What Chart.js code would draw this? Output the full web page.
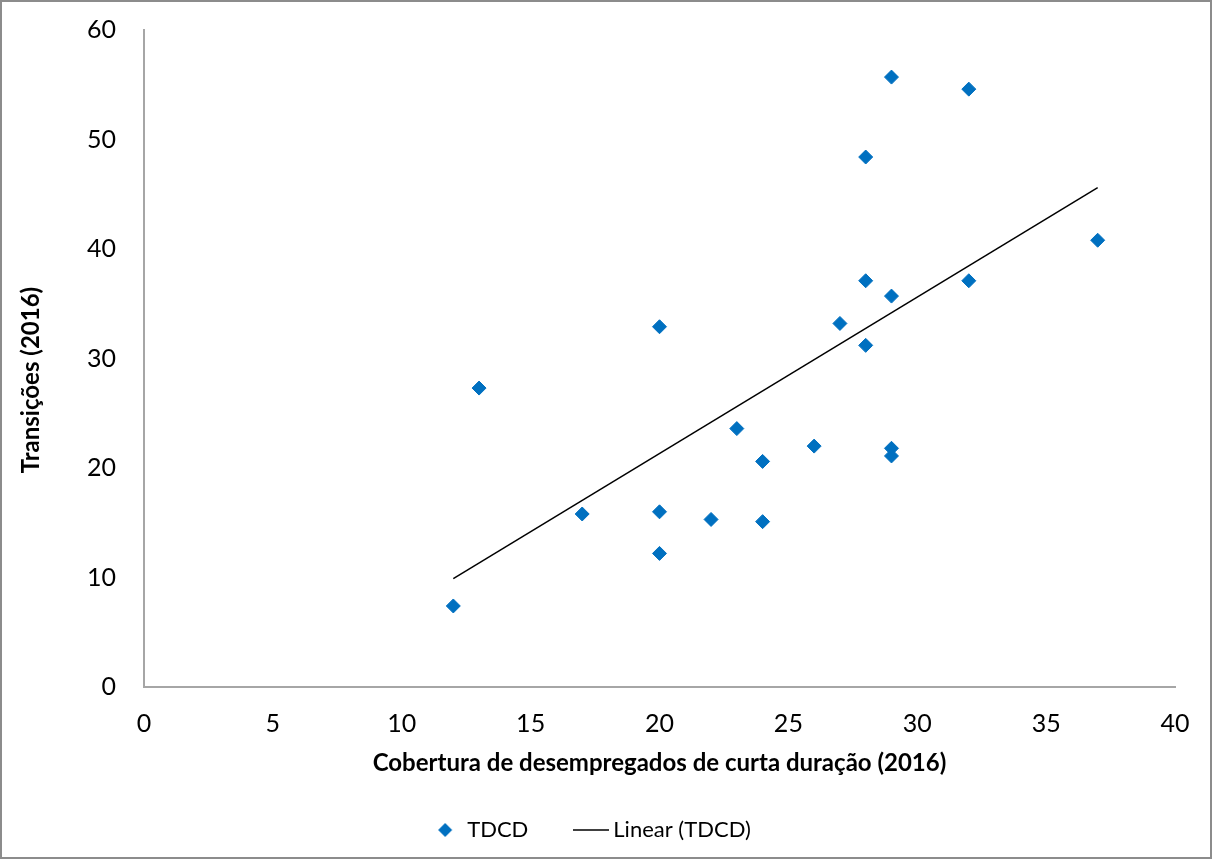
<!DOCTYPE html>
<html>
<head>
<meta charset="utf-8">
<script src="https://cdn.jsdelivr.net/npm/chart.js@4/dist/chart.umd.min.js"></script>
<style>
  html, body { margin: 0; padding: 0; background: #fff; }
  #wrap { width: 1212px; height: 859px; }
</style>
</head>
<body>
<div id="wrap"><canvas id="scatter" width="1212" height="859"></canvas></div>
<script>
const coverage = [12, 13, 17, 20, 20, 20, 22, 23, 24, 24, 26, 27, 28, 28, 28, 29, 29, 29, 29, 32, 32, 37];
const transitions = [7.4, 27.3, 15.8, 32.9, 16.0, 12.2, 15.3, 23.6, 20.6, 15.1, 22.0, 33.2, 48.4, 37.1, 31.2, 55.7, 35.7, 21.8, 21.1, 54.6, 37.1, 40.8];
const trendX = [12, 37];
const trendY = [9.9, 45.6];
const xTicks = [0, 5, 10, 15, 20, 25, 30, 35, 40];
const yTicks = [0, 10, 20, 30, 40, 50, 60];
const xTitle = 'Cobertura de desempregados de curta duração (2016)';
const yTitle = 'Transições (2016)';

const blue = '#0070C0';
const axisGrey = '#a6a6a6';
const fontFam = 'Lato, "Open Sans", sans-serif';

// little legend swatches: a diamond and a short line
function swatch(w, h, draw) {
  const c = document.createElement('canvas');
  c.width = w; c.height = h;
  draw(c.getContext('2d'));
  return c;
}
const diamondIcon = swatch(16, 16, g => {
  g.fillStyle = blue;
  g.beginPath();
  g.moveTo(1, 8); g.lineTo(8, 1); g.lineTo(15, 8); g.lineTo(8, 15);
  g.closePath();
  g.fill();
});
const lineIcon = swatch(36, 4, g => {
  g.strokeStyle = '#000';
  g.lineWidth = 1.5;
  g.beginPath();
  g.moveTo(0, 2); g.lineTo(36, 2);
  g.stroke();
});

const frame = {
  id: 'frame',
  beforeLayout(chart) {
    const lg = chart.legend;
    if (lg && !lg._fixedFit) {
      const fit = lg.fit.bind(lg);
      lg.fit = function () { fit(); this.height = 92; };
      lg._fixedFit = true;
    }
  },
  afterDraw(chart) {
    const c = chart.ctx;
    c.save();
    // y title sits a bit below the middle of the plot, like the original
    c.translate(31, 380);
    c.rotate(-Math.PI / 2);
    c.font = 'bold 24px ' + fontFam;
    c.fillStyle = '#000';
    c.textAlign = 'center';
    c.textBaseline = 'middle';
    c.fillText(yTitle, 0, 0);
    c.restore();

    c.save();
    c.strokeStyle = '#8c8c8c';
    c.lineWidth = 2;
    c.strokeRect(1, 1, chart.width - 2, chart.height - 2);
    c.restore();
  }
};

new Chart(document.getElementById('scatter').getContext('2d'), {
  type: 'scatter',
  data: {
    datasets: [
      {
        label: 'TDCD',
        data: coverage.map((x, i) => ({ x, y: transitions[i] })),
        backgroundColor: blue,
        borderColor: blue,
        borderWidth: 1,
        pointStyle: 'rectRot',
        pointRadius: 7,
        pointHoverRadius: 7,
        order: 2
      },
      {
        label: 'Linear (TDCD)',
        type: 'line',
        data: trendX.map((x, i) => ({ x, y: trendY[i] })),
        borderColor: '#000',
        backgroundColor: '#000',
        borderWidth: 1.5,
        pointRadius: 0,
        fill: false,
        order: 1
      }
    ]
  },
  options: {
    responsive: false,
    animation: false,
    layout: { padding: { top: 30, right: 37, left: 10, bottom: 0 } },
    plugins: {
      tooltip: { enabled: false },
      legend: {
        position: 'bottom',
        labels: {
          usePointStyle: true,
          color: '#000',
          padding: 52,
          font: { family: fontFam, size: 22 },
          generateLabels(chart) {
            return chart.data.datasets.map((ds, i) => ({
              text: ds.label,
              fillStyle: ds.backgroundColor,
              strokeStyle: ds.borderColor,
              lineWidth: 0,
              pointStyle: i === 0 ? diamondIcon : lineIcon,
              hidden: false,
              datasetIndex: i
            }));
          }
        }
      }
    },
    scales: {
      x: {
        type: 'linear',
        min: 0,
        max: 40,
        afterBuildTicks(scale) { scale.ticks = xTicks.map(v => ({ value: v })); },
        afterFit(scale) { scale.height = 80; },
        grid: { display: false, drawTicks: false },
        border: { display: true, color: axisGrey, width: 2 },
        ticks: { color: '#000', padding: 22, font: { family: fontFam, size: 25 } },
        title: {
          display: true,
          text: xTitle,
          color: '#000',
          font: { family: fontFam, size: 24, weight: 'bold' },
          padding: { top: 0, bottom: -11 }
        }
      },
      y: {
        type: 'linear',
        min: 0,
        max: 60,
        afterBuildTicks(scale) { scale.ticks = yTicks.map(v => ({ value: v })); },
        afterFit(scale) {
          scale.width = 134;
          scale.paddingTop = 0;
          scale.paddingBottom = 0;
        },
        grid: { display: false, drawTicks: false },
        border: { display: true, color: axisGrey, width: 2 },
        ticks: { color: '#000', padding: 28, font: { family: fontFam, size: 25 } },
        title: { display: false }
      }
    }
  },
  plugins: [frame]
});
</script>
</body>
</html>
